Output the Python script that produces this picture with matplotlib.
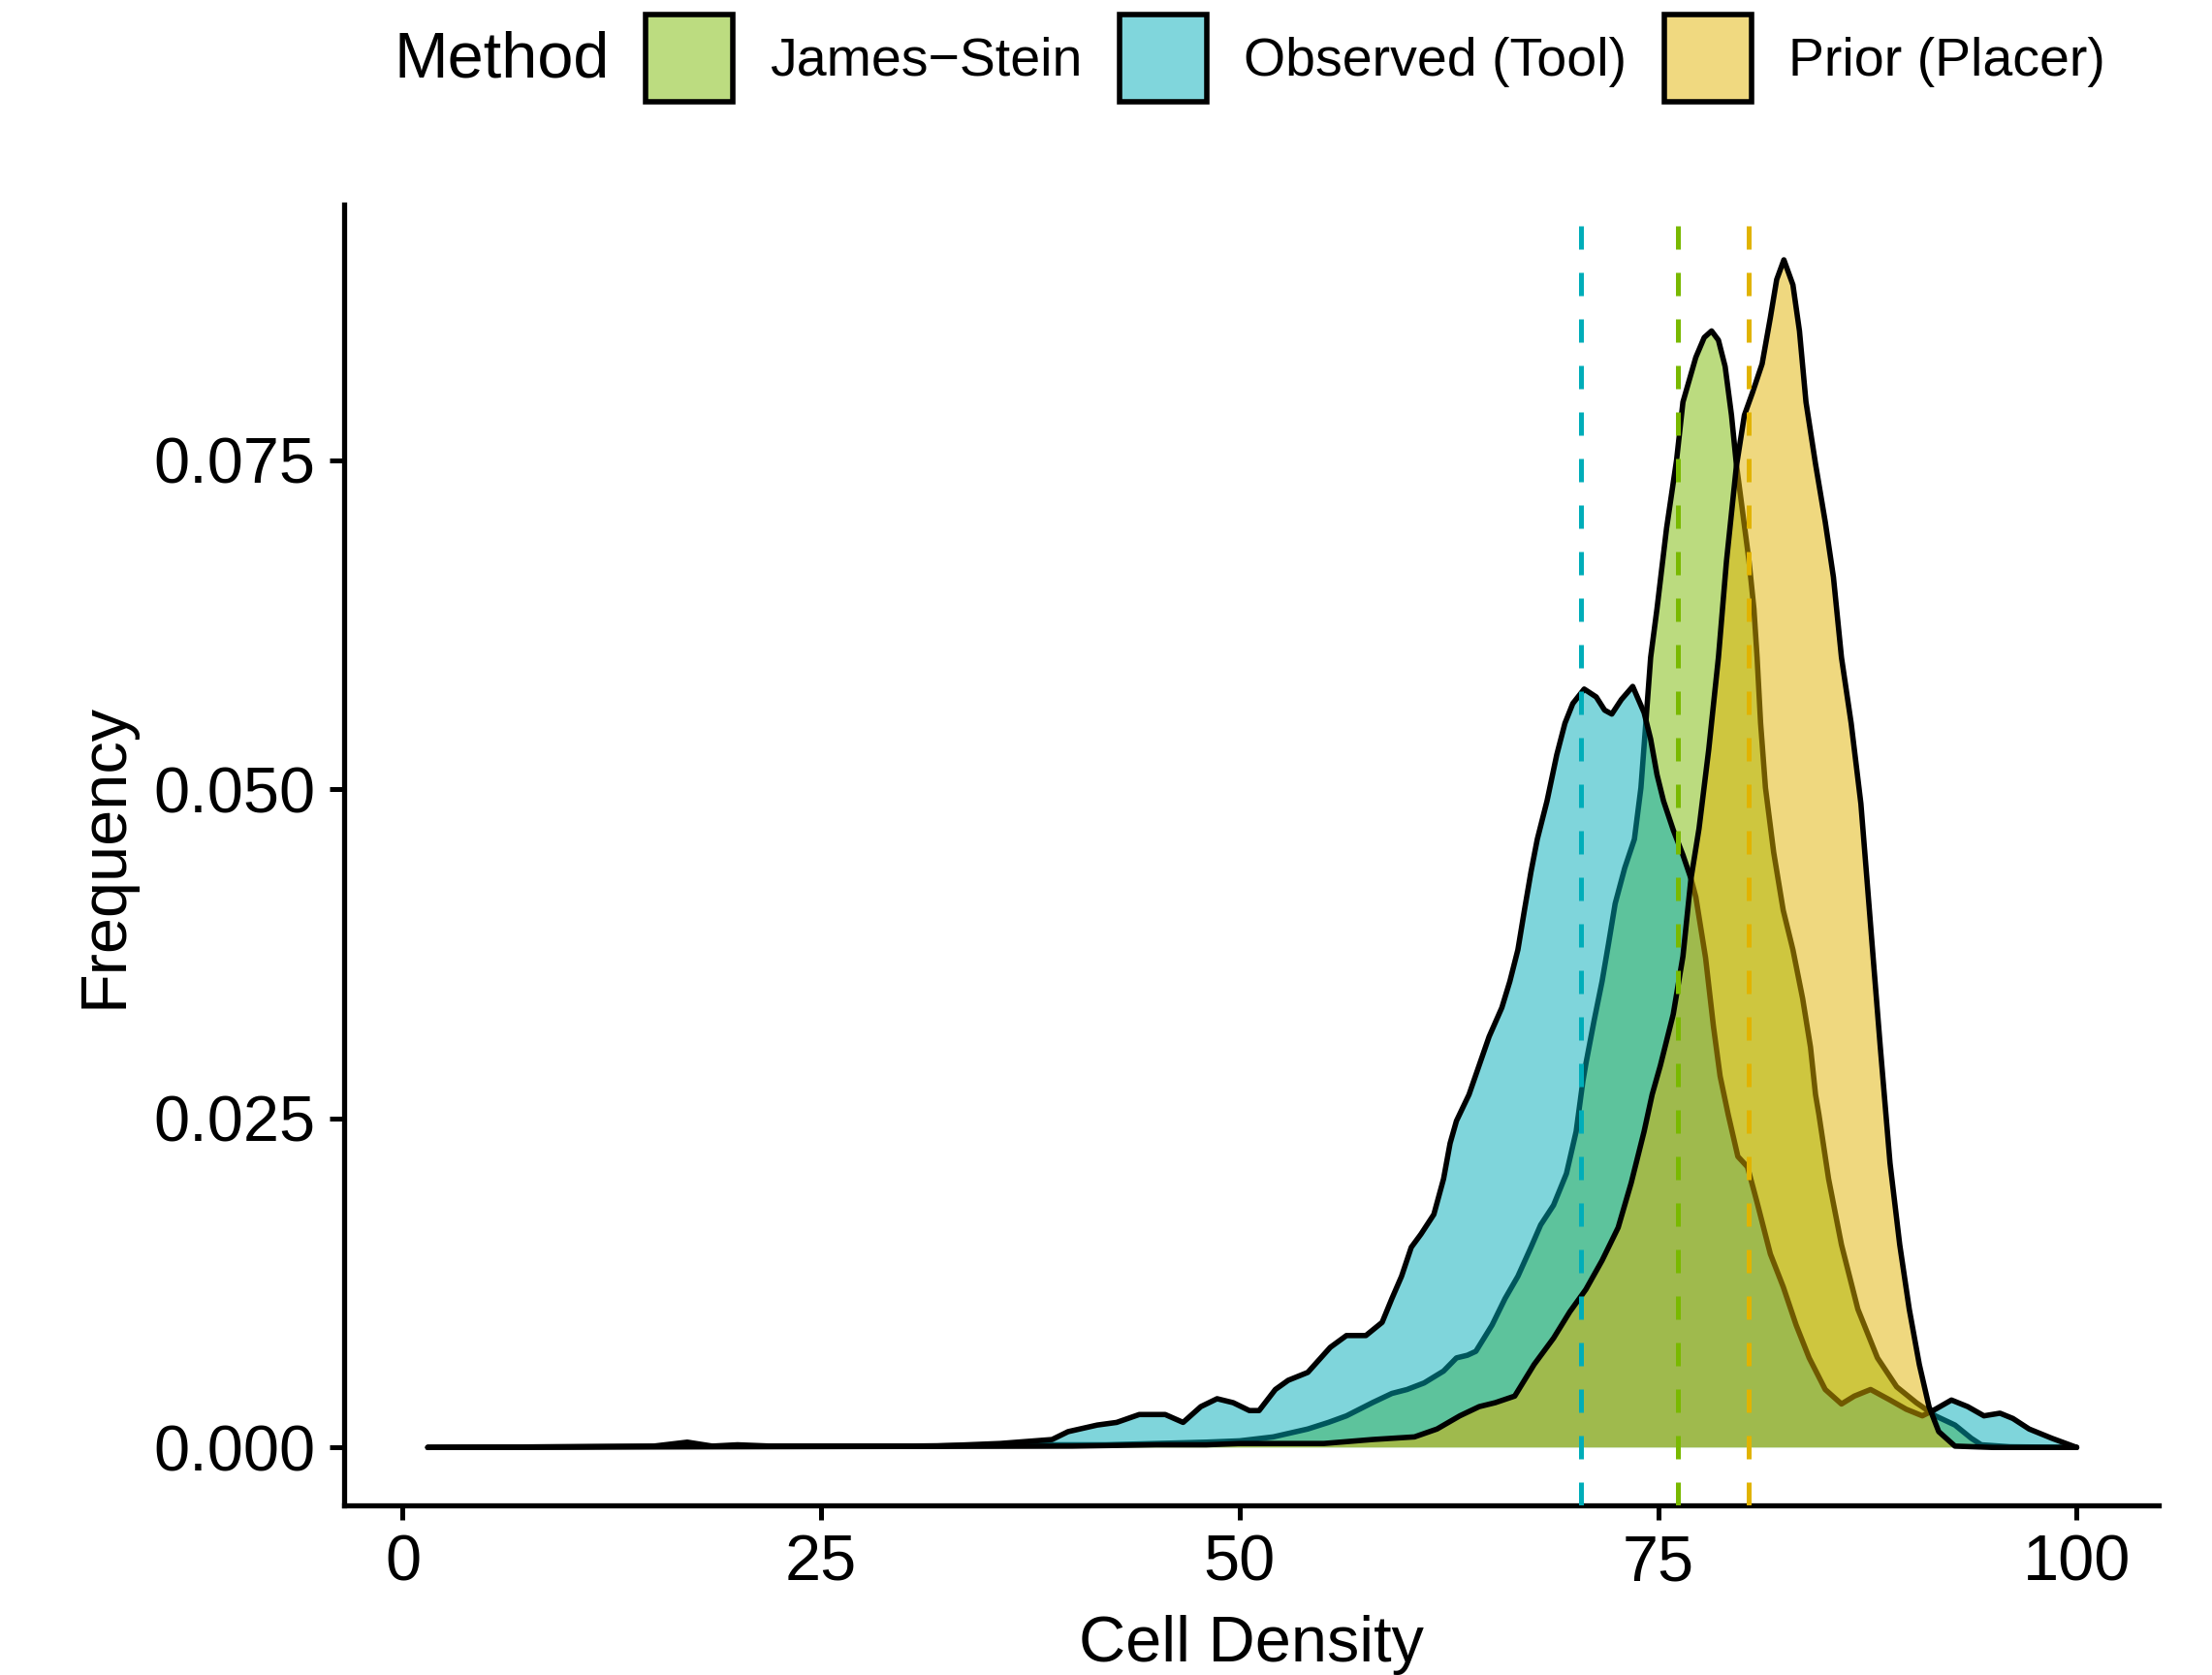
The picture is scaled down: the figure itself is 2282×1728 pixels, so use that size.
import matplotlib
matplotlib.use("Agg")
import matplotlib.pyplot as plt
import matplotlib.colors as mcolors
from matplotlib.patches import Patch

plt.rcParams['font.family'] = ['Liberation Sans', 'DejaVu Sans']

methods = ["James\u2212Stein", "Observed (Tool)", "Prior (Placer)"]
colors = ["#79B900", "#00ADB9", "#E1B300"]
means = [76.2, 70.4, 80.4]  # JS, Observed, Prior

js_x = [1.5, 10, 20, 30, 38, 42, 45, 48, 50, 52, 54.07, 55.3, 56.38, 57.93, 59.09, 60.0, 61.02,
        62.18, 62.95, 63.6, 64.11, 65.08, 65.85, 66.62, 67.4, 67.98, 68.75, 69.52, 70.1, 70.5,
        70.69, 71.17, 71.65, 72.04, 72.43, 73.0, 73.58, 73.97, 74.26, 74.55, 74.93, 75.5, 76.1,
        76.48, 77.25, 77.75, 78.19, 78.6, 79.0, 79.38, 79.67, 80.05, 80.43, 80.72, 80.91, 81.12,
        81.41, 81.9, 82.47, 83.05, 83.63, 84.1, 84.4, 84.6, 85.18, 85.95, 86.93, 88.1, 89.25,
        90.42, 91.56, 92.73, 93.7, 94.3, 96, 100]
js_y = [0, 0.00005, 0.0001, 0.0001, 0.0002, 0.0002, 0.0003, 0.0004, 0.0005, 0.0008, 0.0014,
        0.0019, 0.0024, 0.0034, 0.0041, 0.0044, 0.0049, 0.0058, 0.0068, 0.0070, 0.0073, 0.0093,
        0.0113, 0.0130, 0.0152, 0.0169, 0.0184, 0.0208, 0.0240, 0.0278, 0.0292, 0.0324, 0.0354,
        0.0383, 0.0413, 0.0440, 0.0462, 0.0501, 0.0550, 0.0600, 0.0637, 0.0698, 0.0750, 0.0794,
        0.0828, 0.0843, 0.0848, 0.0841, 0.0821, 0.0784, 0.0747, 0.0710, 0.0673, 0.0637, 0.0600,
        0.0550, 0.0501, 0.0452, 0.0408, 0.0378, 0.0341, 0.0304, 0.0268, 0.0253, 0.0204, 0.0154,
        0.0105, 0.0068, 0.0046, 0.0034, 0.0024, 0.0017, 0.0007, 0.0002, 0.00005, 0.0]

obs_x = [1.5, 10, 15, 17, 18.5, 20, 22, 25, 28, 31.8, 35.7, 38.79, 39.75, 41.49, 42.65, 44.0,
         45.55, 46.62, 47.68, 48.65, 49.61, 50.58, 51.16, 52.13, 52.9, 54.07, 55.41, 56.38, 57.54,
         58.51, 59.09, 59.67, 60.25, 60.83, 61.6, 62.18, 62.57, 62.95, 63.7, 64.3, 64.9, 65.66,
         66.14, 66.62, 67.01, 67.4, 67.78, 68.36, 68.94, 69.43, 69.9, 70.58, 71.3, 71.8, 72.23,
         72.8, 73.48, 74.16, 74.55, 74.93, 75.32, 75.9, 76.48, 76.96, 77.25, 77.83, 78.3, 78.7,
         79.18, 79.76, 80.34, 80.91, 81.7, 82.47, 83.24, 84.02, 84.98, 85.95, 86.72, 87.69, 88.85,
         89.82, 90.78, 91.56, 92.52, 93.49, 94.46, 95.42, 96.19, 97.16, 98.51, 100.0]
obs_y = [0, 0.00005, 0.0001, 0.0004, 0.0001, 0.0002, 0.0001, 0.0001, 0.0001, 0.0001, 0.0003,
         0.0006, 0.0012, 0.0017, 0.0019, 0.0025, 0.0025, 0.0019, 0.0031, 0.0037, 0.0034, 0.0028,
         0.0028, 0.0044, 0.0051, 0.0057, 0.0076, 0.0085, 0.0085, 0.0095, 0.0113, 0.0130, 0.0152,
         0.0162, 0.0177, 0.0204, 0.0231, 0.0248, 0.0268, 0.0290, 0.0312, 0.0334, 0.0354, 0.0378,
         0.0408, 0.0437, 0.0462, 0.0491, 0.0526, 0.0550, 0.0565, 0.0576, 0.0570, 0.0560, 0.0557,
         0.0568, 0.0578, 0.0558, 0.0538, 0.0511, 0.0491, 0.0469, 0.0450, 0.0432, 0.0418, 0.0372,
         0.0320, 0.0282, 0.0253, 0.0221, 0.0213, 0.0186, 0.0147, 0.0122, 0.0093, 0.0068, 0.0044,
         0.0033, 0.0039, 0.0044, 0.0036, 0.0029, 0.0024, 0.0029, 0.0036, 0.0031, 0.0024, 0.0026,
         0.0022, 0.0014, 0.0007, 0.0]

prior_x = [1.5, 20, 40, 45, 48, 50, 52, 55.03, 57.93, 60.44, 61.79, 63.15, 64.31, 65.27, 66.43,
           67.59, 68.75, 69.72, 70.68, 71.65, 72.61, 73.39, 74.16, 74.64, 75.13, 75.9, 76.48,
           76.96, 77.44, 78.02, 78.6, 79.08, 79.67, 80.15, 80.63, 81.21, 81.7, 82.08, 82.51, 83.05,
           83.44, 83.83, 84.4, 84.98, 85.47, 85.95, 86.53, 87.11, 87.5, 87.88, 88.27, 88.85, 89.43,
           90.0, 90.6, 91.18, 91.76, 92.73, 95, 100]
prior_y = [0, 0.00005, 0.0001, 0.0002, 0.0002, 0.0003, 0.0003, 0.0003, 0.0006, 0.0008, 0.0014,
           0.0024, 0.0031, 0.0034, 0.0039, 0.0063, 0.0083, 0.0103, 0.0120, 0.0142, 0.0167, 0.0201,
           0.0240, 0.0268, 0.0290, 0.0329, 0.0373, 0.0432, 0.0470, 0.0530, 0.0600, 0.0673, 0.0745,
           0.0784, 0.0801, 0.0823, 0.0858, 0.0887, 0.0902, 0.0883, 0.0848, 0.0794, 0.0747, 0.0703,
           0.0661, 0.0600, 0.0550, 0.0489, 0.0427, 0.0366, 0.0304, 0.0216, 0.0154, 0.0105, 0.0063,
           0.0031, 0.0012, 0.0001, 0.0, 0.0]

series_x = [js_x, obs_x, prior_x]
series_y = [js_y, obs_y, prior_y]

x_ticks = [0, 25, 50, 75, 100]
y_ticks = [0.0, 0.025, 0.05, 0.075]
y_tick_labels = ["0.000", "0.025", "0.050", "0.075"]

W, H = 2282, 1728
fig = plt.figure(figsize=(W / 200, H / 200), dpi=200)
L, R, T, B = 355, 2227, 211, 1553
ax = fig.add_axes([L / W, 1 - B / H, (R - L) / W, (B - T) / H])

for i, (xs, ys, c) in enumerate(zip(series_x, series_y, colors)):
    ax.fill_between(xs, ys, 0, facecolor=c, alpha=0.5, linewidth=0, zorder=2 + i)
    ax.plot(xs, ys, color="black", linewidth=2.0, zorder=2.5 + i,
            solid_joinstyle="round", solid_capstyle="round")

for m, c in zip(means, colors):
    ax.axvline(m, color=c, linewidth=1.8, dashes=(4.8, 4.8), zorder=10)

ax.set_xlim(-3.5, 104.9)
ax.set_ylim(-0.0044, 0.0944)
ax.set_xticks(x_ticks)
ax.set_xticklabels([str(t) for t in x_ticks])
ax.set_yticks(y_ticks)
ax.set_yticklabels(y_tick_labels)

for s in ["top", "right"]:
    ax.spines[s].set_visible(False)
for s in ["left", "bottom"]:
    ax.spines[s].set_linewidth(1.9)
    ax.spines[s].set_color("black")

ax.tick_params(axis="both", which="major", length=5.5, width=1.8, color="black",
               labelsize=24, labelcolor="black", pad=5)
ax.set_xlabel("Cell Density", fontsize=24, labelpad=8)
ax.set_ylabel("Frequency", fontsize=24, labelpad=7)

handles = []
for c in colors:
    r, g, b = mcolors.to_rgb(c)
    handles.append(Patch(facecolor=(r * 0.5 + 0.5, g * 0.5 + 0.5, b * 0.5 + 0.5),
                         edgecolor="black", linewidth=2.0))

fig.legend(handles=handles, labels=methods, ncol=3, frameon=False,
           loc="center left", bbox_to_anchor=(666 / W, 1 - 60 / H),
           fontsize=20, handlelength=1.62, handleheight=2.1,
           handletextpad=0.68, columnspacing=0.7, borderpad=0, borderaxespad=0)
fig.text(407 / W, 1 - 62 / H, "Method", fontsize=24, ha="left", va="center")

fig.savefig("out.png", dpi=200)
